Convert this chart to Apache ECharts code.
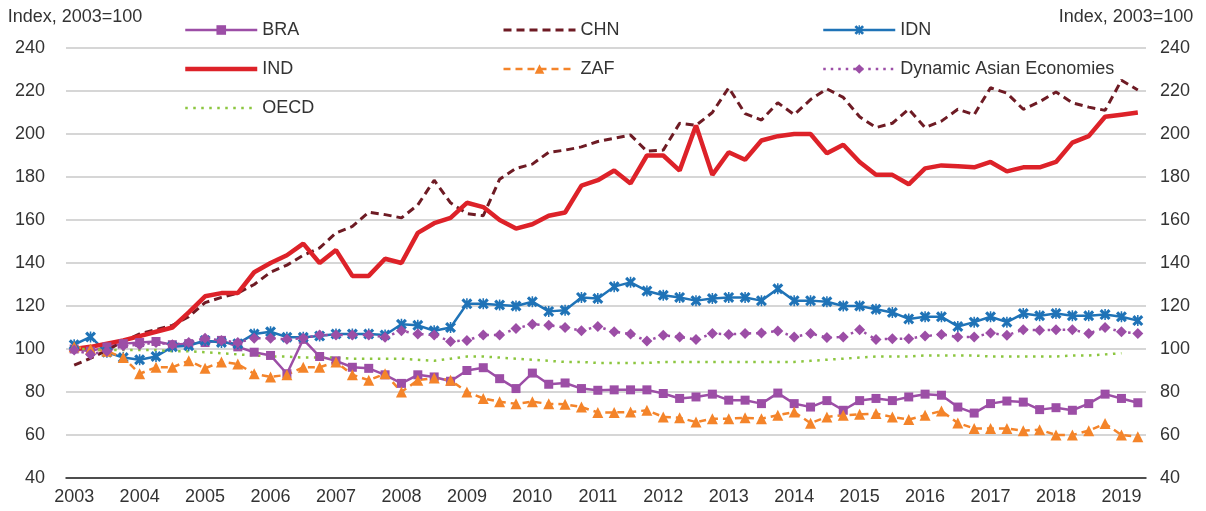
<!DOCTYPE html>
<html>
<head>
<meta charset="utf-8">
<script src="https://cdn.jsdelivr.net/npm/echarts@6/dist/echarts.min.js"></script>
<style>
  html, body { margin: 0; padding: 0; background: #fff; }
  #chart { width: 1206px; height: 511px; }
</style>
</head>
<body>
<div id="chart"></div>
<script>
// quarterly, 2003Q1 .. 2019Q2
const years = []
for (let y = 2003; y <= 2019; y++) years.push(y)
const quarters = []
years.forEach(y => { for (let q = 1; q <= 4; q++) if (!(y === 2019 && q > 2)) quarters.push(y + "Q" + q) })

const yTicks = { min: 40, max: 240, step: 20 }

const bra = [100, 99, 101, 102.5, 103, 103.5, 102, 102.5, 103, 104, 101, 98.5, 97, 88.5, 104.5, 96.5,
  94.5, 91.5, 91, 88, 84, 88, 87, 85, 90, 91.3, 86.2, 81.6, 88.8, 83.6, 84.2, 81.6,
  80.8, 81, 81, 81, 79.3, 77, 77.7, 79, 76.2, 76.2, 74.6, 79.5, 74.6, 73, 76, 71.5,
  76, 77, 76, 77.7, 79, 78.5, 73, 70.2, 74.6, 75.8, 75.3, 71.8, 72.7, 71.5, 74.6, 79,
  77, 75]
const chn = [92.5, 95.7, 99.4, 103.6, 107, 109, 111, 115, 121.6, 124, 126, 130, 135.7, 139, 143.6, 147,
  154, 157, 163.6, 162.5, 161, 167, 178.5, 168, 163, 162, 179, 184, 186, 191.5, 192.5, 194,
  196.5, 198, 199.5, 192, 192.5, 205, 204, 210, 221.5, 209.5, 206.5, 214.5, 209, 216, 221, 217,
  208, 203, 205, 211.5, 203, 206, 211.5, 209, 221.5, 219, 211.5, 215, 219.5, 214.5, 212.5, 211,
  225, 220.5]
const idn = [102, 105.6, 98.5, 96, 95, 96.5, 101, 101.5, 104, 103, 102.5, 107, 108, 105.5, 105.5, 106,
  107, 107, 107, 106.5, 111.5, 111, 108.5, 110, 121, 121, 120.5, 120, 122, 117.5, 118, 124,
  123.5, 129, 131, 127, 125, 124, 122.5, 123.5, 124, 124, 122.5, 128, 122.5, 122.5, 122, 120,
  120, 118.5, 117, 114, 115, 115, 110.5, 112.5, 115, 112.5, 116.5, 115.5, 116.5, 115.5, 115.5, 116,
  115, 113.2]
const ind = [100, 101, 102.5, 104, 106, 108, 110, 117, 124.5, 126, 126, 135.7, 140, 143.6, 149, 140,
  146, 134, 134, 142, 140, 154, 158.5, 161, 168, 166, 160, 156, 158, 162, 163.5, 176,
  178.5, 183, 177, 190, 190, 183, 204, 181, 191.5, 188, 197, 199, 200, 200, 191, 195,
  187, 181, 181, 176.6, 184, 185.4, 185, 184.5, 187, 182.6, 184.5, 184.5, 187, 196, 199, 208,
  209, 210]
const zaf = [101, 100, 99, 96, 88.5, 91.5, 91.5, 94.5, 91, 94, 93, 88.5, 87, 88, 91.5, 91.5,
  94, 88, 85.5, 88.5, 80, 85.5, 86.5, 85.5, 80, 77, 75.5, 74.5, 75.5, 74.5, 74.3, 73,
  70.5, 70.5, 70.7, 71.5, 68.4, 68, 66, 67.6, 67.6, 68, 67.6, 69.2, 70.7, 65.5, 68.4, 69.2,
  69.6, 70, 68.4, 67.2, 69.2, 71.2, 65.6, 63, 63, 63, 62, 62.5, 60, 60, 62, 65.3,
  60, 59.2]
const dae = [99.5, 97.5, 99, 101.5, 102, 103, 102, 103, 105, 104, 103, 105, 105, 104.5, 105, 106.5,
  106.5, 106.5, 106.5, 105.5, 108.5, 107, 106.5, 103.5, 104, 106.5, 106.5, 109.5, 111.5, 111, 110, 108.5,
  110.5, 108, 107, 103.7, 106.4, 105.6, 104.4, 107.2, 106.8, 107.2, 107.4, 108.4, 105.6, 107.2, 105.3, 105.6,
  109, 104.4, 104.8, 104.8, 106, 106.8, 105.6, 105.6, 107.4, 106.4, 109, 108.7, 109, 109, 107.2, 110,
  108, 107.2]
const oecd = [100, 100, 99.5, 99.5, 99.5, 99.5, 99, 99, 98.5, 98, 97.5, 97, 96.5, 96.5, 96, 96,
  96, 95.5, 95.5, 95.5, 95.5, 95, 94.5, 95.5, 96.5, 96.5, 96, 95.5, 95, 94.5, 94, 94,
  93.5, 93.5, 93.5, 93.5, 94, 94, 94, 94, 94, 94, 94, 94, 94, 94.5, 95, 95.5,
  96, 96.5, 96.5, 96.5, 97, 97, 97, 97, 96.5, 96.5, 96.5, 96.5, 96.5, 97, 97, 97.5,
  98, null]

const font = "'Liberation Sans', Arial, sans-serif"
const textColor = "#333"
const starIcon = "path://M2,0L5,3L8,0L10,2L7,5L10,8L8,10L5,7L2,10L0,8L3,5L0,2ZM4.3,0L5.7,0L5.7,10L4.3,10Z"

function lineSeries(name, data, color, opts) {
  return Object.assign({
    name,
    type: "line",
    data,
    color,
    showSymbol: true,
    showAllSymbol: true,
    symbol: "none",
    lineStyle: { color, width: 2.5 },
    itemStyle: { color },
    emphasis: { disabled: true }
  }, opts)
}

const legendBase = {
  orient: "vertical",
  top: 16,
  itemWidth: 72,
  itemHeight: 12,
  itemGap: 21,
  lineStyle: { width: "inherit", type: "inherit" },
  textStyle: { fontFamily: font, fontSize: 18, color: textColor, lineHeight: 18 },
  selectedMode: false
}
// plain lines in the legend, no marker
const noMark = { itemStyle: { opacity: 0 } }

const axisLabelStyle = { fontFamily: font, fontSize: 18, color: textColor }

const chart = echarts.init(document.getElementById("chart"))
chart.setOption({
  animation: false,
  backgroundColor: "#fff",
  grid: { left: 66, right: 60, top: 48, bottom: 33 },
  legend: [
    Object.assign({ left: 178, data: ["BRA", Object.assign({ name: "IND" }, noMark), Object.assign({ name: "OECD" }, noMark)] }, legendBase),
    Object.assign({ left: 497, data: [Object.assign({ name: "CHN" }, noMark), "ZAF"] }, legendBase),
    Object.assign({ left: 817, data: ["IDN", "Dynamic Asian Economies"] }, legendBase)
  ],
  xAxis: {
    type: "category",
    data: quarters,
    boundaryGap: true,
    axisLine: { lineStyle: { color: "#222", width: 1.5 } },
    axisTick: { inside: true, length: 5, interval: 0, lineStyle: { color: "#222", width: 1.2 } },
    axisLabel: Object.assign({
      interval: (i) => i % 4 === 0,
      formatter: (v) => v.slice(0, 4),
      margin: 10
    }, axisLabelStyle),
    splitLine: { show: false }
  },
  yAxis: [
    {
      type: "value",
      position: "left",
      min: yTicks.min, max: yTicks.max, interval: yTicks.step,
      name: "Index, 2003=100",
      nameLocation: "end",
      nameGap: 22,
      nameTextStyle: Object.assign({ align: "center", padding: [0, 0, 0, 18] }, axisLabelStyle),
      axisLine: { show: false },
      axisTick: { show: false },
      axisLabel: Object.assign({ margin: 21 }, axisLabelStyle),
      splitLine: { lineStyle: { color: "#c8c8c8", width: 1.5 } }
    },
    {
      type: "value",
      position: "right",
      min: yTicks.min, max: yTicks.max, interval: yTicks.step,
      name: "Index, 2003=100",
      nameLocation: "end",
      nameGap: 22,
      nameTextStyle: Object.assign({ align: "center", padding: [0, 40, 0, 0] }, axisLabelStyle),
      axisLine: { show: false },
      axisTick: { show: false },
      axisLabel: Object.assign({ margin: 14 }, axisLabelStyle),
      splitLine: { show: false }
    }
  ],
  series: [
    lineSeries("BRA", bra, "#9c4ea6", { symbol: "rect", symbolSize: 9 }),
    lineSeries("CHN", chn, "#6e1b24", { lineStyle: { color: "#6e1b24", width: 3, type: [8, 5] } }),
    lineSeries("IDN", idn, "#1f73b7", { symbol: starIcon, symbolSize: 11 }),
    lineSeries("IND", ind, "#dd2229", { lineStyle: { color: "#dd2229", width: 4.5 } }),
    lineSeries("ZAF", zaf, "#f4842a", { symbol: "triangle", symbolSize: 11, lineStyle: { color: "#f4842a", width: 2.5, type: [7, 5] } }),
    lineSeries("Dynamic Asian Economies", dae, "#9c4ea6", { symbol: "diamond", symbolSize: 11, lineStyle: { color: "#9c4ea6", width: 2.5, type: [2.5, 5] } }),
    lineSeries("OECD", oecd, "#8cc63f", { lineStyle: { color: "#8cc63f", width: 2.5, type: [2.5, 5.5] } })
  ]
})
</script>
</body>
</html>
